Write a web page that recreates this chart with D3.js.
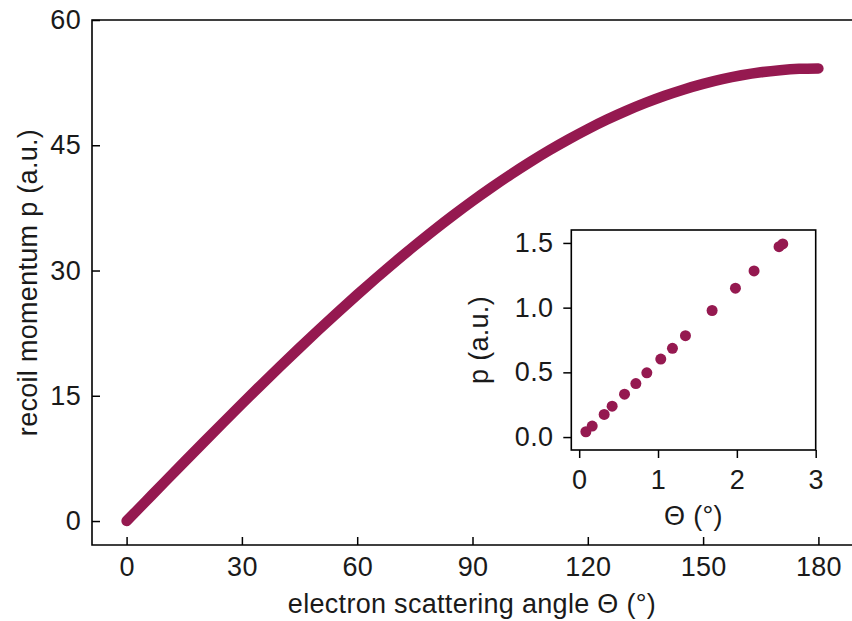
<!DOCTYPE html>
<html><head><meta charset="utf-8">
<script src="https://cdn.jsdelivr.net/npm/d3@7"></script>
<style>body{margin:0;background:#fff}svg{display:block}text{font-family:"Liberation Sans",Arial,sans-serif;fill:#1a1a1a;letter-spacing:0.3px}</style>
</head><body><svg id="c" width="852" height="621"></svg>
<script>
// Main curve: scattering angle (deg) vs recoil momentum p (a.u.)
const mainAngle = [0,5,10,15,20,25,30,35,40,45,50,55,60,65,70,75,80,85,90,95,100,105,110,115,120,125,130,135,140,145,150,155,160,165,170,175,180];
const mainP = [0,2.36,4.72,7.07,9.41,11.73,14.03,16.30,18.54,20.74,22.91,25.03,27.10,29.12,31.09,32.99,34.84,36.62,38.33,39.96,41.52,43.00,44.40,45.71,46.94,48.08,49.12,50.07,50.93,51.69,52.35,52.92,53.38,53.74,53.99,54.15,54.20];
// Inset points
const insetAngle = [0.085,0.165,0.317,0.418,0.575,0.719,0.858,1.035,1.183,1.348,1.686,1.982,2.218,2.535,2.582];
const insetP = [0.041,0.085,0.175,0.239,0.331,0.413,0.496,0.603,0.686,0.783,0.978,1.150,1.284,1.471,1.492];
const mainXTicks = [0,30,60,90,120,150,180];
const mainYTicks = [0,15,30,45,60];
const insetXTicks = [0,1,2,3];
const insetYTicks = [0.0,0.5,1.0,1.5];
const color = "#951950";

const svg = d3.select("#c");
const M = {l:92, r:853, t:20, b:545};
const x = d3.scaleLinear().domain([-9,189]).range([M.l,M.r]);
const y = d3.scaleLinear().domain([-2.87,60]).range([M.b,M.t]);
const fs = 27;

function styleAxis(g, size){
  g.selectAll(".domain").remove();
  g.selectAll(".tick line").attr("stroke","#000").attr("stroke-width",1.5);
  g.selectAll(".tick text").attr("font-size",size).attr("fill","#1a1a1a");
}
// main axes
const gx = svg.append("g").attr("transform",`translate(0,${M.b})`)
  .call(d3.axisBottom(x).tickValues(mainXTicks).tickSize(-8).tickPadding(12).tickFormat(d3.format("d")));
styleAxis(gx, fs);
const gy = svg.append("g").attr("transform",`translate(${M.l},0)`)
  .call(d3.axisLeft(y).tickValues(mainYTicks).tickSize(-8).tickPadding(11).tickFormat(d3.format("d")));
styleAxis(gy, fs);
// spines
svg.append("path").attr("d",`M${M.l},${M.t}H${M.r}V${M.b}H${M.l}Z`).attr("fill","none").attr("stroke","#000").attr("stroke-width",1.6);

// curve
const pts = mainAngle.map((a,i)=>[a,mainP[i]]);
svg.append("path").datum(pts)
  .attr("d", d3.line().x(d=>x(d[0])).y(d=>y(d[1])).curve(d3.curveMonotoneX))
  .attr("fill","none").attr("stroke",color).attr("stroke-width",10.5)
  .attr("stroke-linecap","round").attr("stroke-linejoin","round");

svg.append("text").attr("x",(M.l+852)/2).attr("y",613).attr("text-anchor","middle").attr("font-size",fs)
  .text("electron scattering angle Θ (°)");
svg.append("text").attr("transform",`translate(37,${(M.t+M.b)/2}) rotate(-90)`).attr("text-anchor","middle").attr("font-size",fs)
  .text("recoil momentum p (a.u.)");

// inset
const I = {l:571.3, r:815.7, t:230, b:450};
const ix = d3.scaleLinear().domain([-0.1,3]).range([I.l,I.r]);
const iy = d3.scaleLinear().domain([-0.1,1.6]).range([I.b,I.t]);
svg.append("rect").attr("x",I.l).attr("y",I.t).attr("width",I.r-I.l).attr("height",I.b-I.t).attr("fill","#fff");
const igx = svg.append("g").attr("transform",`translate(0,${I.b})`)
  .call(d3.axisBottom(ix).tickValues(insetXTicks).tickSize(8).tickPadding(12).tickFormat(d3.format("d")));
styleAxis(igx, fs);
const igy = svg.append("g").attr("transform",`translate(${I.l},0)`)
  .call(d3.axisLeft(iy).tickValues(insetYTicks).tickSize(8).tickPadding(10).tickFormat(d3.format(".1f")));
styleAxis(igy, fs);
svg.append("rect").attr("x",I.l).attr("y",I.t).attr("width",I.r-I.l).attr("height",I.b-I.t)
  .attr("fill","none").attr("stroke","#000").attr("stroke-width",1.6);
svg.selectAll("circle.ins").data(insetAngle.map((a,i)=>[a,insetP[i]])).join("circle")
  .attr("cx",d=>ix(d[0])).attr("cy",d=>iy(d[1])).attr("r",5.5).attr("fill",color);
svg.append("text").attr("x",(I.l+I.r)/2).attr("y",525).attr("text-anchor","middle").attr("font-size",fs).text("Θ (°)");
svg.append("text").attr("transform",`translate(488,${(I.t+I.b)/2}) rotate(-90)`).attr("text-anchor","middle").attr("font-size",fs).text("p (a.u.)");
</script></body></html>
